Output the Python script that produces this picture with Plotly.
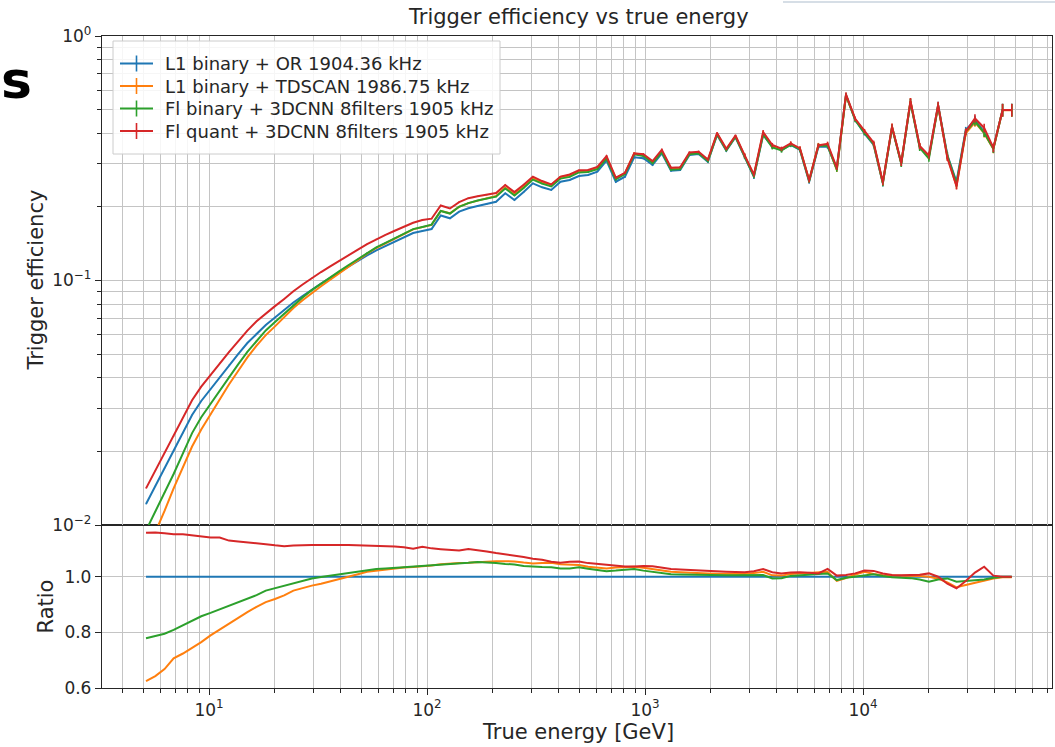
import plotly.graph_objects as go

# ---------------- data ----------------
energy_gev = [5.14, 5.67, 6.25, 6.88, 7.59, 8.36, 9.21, 10.16, 11.19, 12.34,
              13.60, 14.99, 16.52, 18.21, 20.07, 22.12, 24.38, 26.87, 29.62, 32.65,
              35.97, 39.66, 43.71, 48.18, 53.09, 58.52, 64.50, 71.09, 78.34, 86.36,
              95.17, 104.9, 115.6, 127.4, 140.4, 154.8, 170.6, 188.0, 207.3, 228.5,
              251.8, 277.5, 305.9, 337.2, 371.5, 409.6, 451.3, 497.6, 548.3, 604.4,
              666.1, 734.3, 809.1, 891.9, 982.9, 1083, 1194, 1316, 1450, 1599,
              1762, 1942, 2141, 2360, 2600, 2866, 3159, 3482, 3837, 4229,
              4661, 5138, 5662, 6241, 6879, 7582, 8356, 9211, 10150, 11190,
              12330, 13590, 14980, 16510, 18200, 20060, 22110, 24370, 26850, 29600,
              32620, 35960, 39630, 43680, 48140]

# efficiency of the reference trigger (L1 binary + OR)
eff_l1_or = [0.01219, 0.01443, 0.01710, 0.01998, 0.02378, 0.02818, 0.03215, 0.03599, 0.04030, 0.04512,
             0.05004, 0.05551, 0.06069, 0.06577, 0.07058, 0.07573, 0.08128, 0.08642, 0.09188, 0.09721,
             0.1026, 0.1083, 0.1141, 0.1202, 0.1266, 0.1329, 0.1384, 0.1440, 0.1499, 0.1564,
             0.1594, 0.1624, 0.1844, 0.1796, 0.1912, 0.1974, 0.2017, 0.2055, 0.2100, 0.2273,
             0.2134, 0.2301, 0.2497, 0.2405, 0.2345, 0.2535, 0.2576, 0.2675, 0.2700, 0.2786,
             0.3090, 0.2535, 0.2657, 0.3191, 0.3161, 0.2968, 0.3313, 0.2812, 0.2831, 0.3261,
             0.3292, 0.3061, 0.3937, 0.3396, 0.3853, 0.3200, 0.2657, 0.3937, 0.3526, 0.3418,
             0.3583, 0.3418, 0.2535, 0.3526, 0.3526, 0.2877, 0.5738, 0.4533, 0.3999, 0.3583,
             0.2497, 0.4232, 0.3015, 0.5387, 0.3526, 0.3209, 0.5222, 0.3261, 0.2535, 0.4125,
             0.4533, 0.4061, 0.3473, 0.4982, 0.4982]

# ratios to the reference trigger (lower panel)
ratio_l1_tdscan = [0.625, 0.643, 0.668, 0.707, 0.724, 0.743, 0.765, 0.789, 0.810, 0.832,
                   0.852, 0.873, 0.892, 0.909, 0.920, 0.933, 0.950, 0.960, 0.968, 0.975,
                   0.983, 0.992, 1.000, 1.009, 1.018, 1.022, 1.026, 1.030, 1.033, 1.035,
                   1.037, 1.040, 1.045, 1.048, 1.049, 1.050, 1.052, 1.055, 1.056, 1.056,
                   1.055, 1.051, 1.048, 1.049, 1.050, 1.045, 1.043, 1.042, 1.036, 1.032,
                   1.030, 1.033, 1.035, 1.036, 1.032, 1.027, 1.022, 1.018, 1.016, 1.014,
                   1.012, 1.012, 1.011, 1.010, 1.009, 1.010, 1.013, 1.018, 1.005, 1.004,
                   1.010, 1.012, 1.014, 1.016, 1.018, 0.985, 0.995, 1.008, 1.018, 1.010,
                   1.005, 1.004, 1.004, 1.004, 1.003, 1.000, 0.993, 0.980, 0.962, 0.970,
                   0.978, 0.986, 0.994, 0.998, 0.998]

ratio_fi_binary = [0.779, 0.786, 0.795, 0.809, 0.826, 0.843, 0.858, 0.870, 0.883, 0.895,
                   0.907, 0.920, 0.934, 0.950, 0.959, 0.968, 0.976, 0.987, 0.994, 0.999,
                   1.004, 1.009, 1.014, 1.020, 1.025, 1.028, 1.030, 1.032, 1.035, 1.037,
                   1.039, 1.042, 1.044, 1.046, 1.047, 1.050, 1.053, 1.052, 1.049, 1.046,
                   1.044, 1.039, 1.036, 1.035, 1.034, 1.030, 1.030, 1.034, 1.029, 1.024,
                   1.020, 1.022, 1.026, 1.028, 1.022, 1.017, 1.012, 1.009, 1.008, 1.007,
                   1.006, 1.006, 1.006, 1.005, 1.005, 1.005, 1.005, 1.006, 0.994, 0.995,
                   1.003, 1.006, 1.008, 1.010, 1.012, 0.988, 0.996, 1.000, 1.005, 1.009,
                   1.003, 0.998, 0.996, 0.995, 0.990, 0.982, 0.990, 0.994, 0.982, 0.985,
                   0.987, 0.990, 0.996, 1.000, 1.000]

ratio_fi_quant = [1.158, 1.159, 1.156, 1.153, 1.153, 1.149, 1.144, 1.141, 1.141, 1.130,
                  1.127, 1.124, 1.122, 1.117, 1.113, 1.110, 1.112, 1.114, 1.114, 1.114,
                  1.113, 1.114, 1.114, 1.113, 1.113, 1.112, 1.111, 1.109, 1.106, 1.101,
                  1.108, 1.102, 1.099, 1.097, 1.094, 1.100, 1.096, 1.091, 1.085, 1.081,
                  1.077, 1.071, 1.065, 1.061, 1.054, 1.050, 1.054, 1.055, 1.049, 1.046,
                  1.043, 1.040, 1.037, 1.037, 1.039, 1.038, 1.033, 1.028, 1.026, 1.024,
                  1.022, 1.020, 1.019, 1.018, 1.017, 1.016, 1.020, 1.028, 1.016, 1.012,
                  1.015, 1.016, 1.014, 1.012, 1.028, 1.004, 1.006, 1.012, 1.022, 1.021,
                  1.012, 1.006, 1.005, 1.005, 1.007, 1.012, 1.000, 0.975, 0.958, 0.985,
                  1.015, 1.036, 1.004, 1.000, 1.000]

# relative statistical uncertainty of the efficiencies (error bars)
rel_err = [0.002, 0.002, 0.002, 0.002, 0.002, 0.002, 0.002, 0.002, 0.002, 0.002,
           0.002, 0.002, 0.002, 0.002, 0.002, 0.002, 0.002, 0.002, 0.002, 0.002,
           0.002, 0.002, 0.002, 0.002, 0.002, 0.002, 0.002, 0.002, 0.002, 0.002,
           0.005, 0.005, 0.005, 0.005, 0.005, 0.005, 0.005, 0.005, 0.005, 0.005,
           0.005, 0.005, 0.005, 0.005, 0.005, 0.005, 0.005, 0.005, 0.005, 0.005,
           0.010, 0.010, 0.010, 0.010, 0.010, 0.010, 0.010, 0.010, 0.010, 0.010,
           0.010, 0.010, 0.010, 0.010, 0.010, 0.020, 0.020, 0.020, 0.020, 0.020,
           0.020, 0.020, 0.020, 0.020, 0.020, 0.020, 0.020, 0.020, 0.020, 0.020,
           0.030, 0.030, 0.030, 0.030, 0.030, 0.030, 0.030, 0.030, 0.030, 0.030,
           0.040, 0.040, 0.040, 0.060, 0.060]

labels = ["L1 binary + OR 1904.36 kHz",
          "L1 binary + TDSCAN 1986.75 kHz",
          "Fl binary + 3DCNN 8filters 1905 kHz",
          "Fl quant + 3DCNN 8filters 1905 kHz"]
colors = ["#1f77b4", "#ff7f0e", "#2ca02c", "#d62728"]

x_major = [10, 100, 1000, 10000]
x_major_text = ["10<sup>1</sup>", "10<sup>2</sup>", "10<sup>3</sup>", "10<sup>4</sup>"]
y_major = [0.01, 0.1, 1]
y_major_text = ["10<sup>\u22122</sup>", "10<sup>\u22121</sup>", "10<sup>0</sup>"]
ratio_ticks = [0.6, 0.8, 1.0]
ratio_ticktext = ["0.6", "0.8", "1.0"]

# ---------------- derived series ----------------
ratio_l1_or = [e / e for e in eff_l1_or]
ratios = [ratio_l1_or, ratio_l1_tdscan, ratio_fi_binary, ratio_fi_quant]
effs = [[b * r for b, r in zip(eff_l1_or, rs)] for rs in ratios]
for arr in [energy_gev, rel_err] + ratios:
    assert len(arr) == len(eff_l1_or)

# ---------------- geometry ----------------
W, H = 1055, 747
L, R, T, B = 102, 1052, 36, 688      # plot-area pixel bounds
SPLIT = 525                          # boundary between panels


def px(x):
    return (x - L) / (R - L)


def py(y):
    return (B - y) / (B - T)


split_frac = py(SPLIT)

minor_x = [k * 10 ** d for d in range(0, 5) for k in range(2, 10)]
minor_y = [k * 10 ** d for d in (-2, -1) for k in range(2, 10)]

TXT = "#262626"
GRID = "#c4c4c4"

fig = go.Figure()

for lab, col, eff, rs in zip(labels, colors, effs, ratios):
    fig.add_trace(go.Scatter(
        x=energy_gev, y=eff, mode="lines", name=lab,
        line=dict(color=col, width=2),
        error_y=dict(type="data", array=[e * r for e, r in zip(eff, rel_err)],
                     visible=True, color=col, thickness=1.6, width=0),
        xaxis="x2", yaxis="y2", showlegend=False))
for lab, col, rs in zip(labels, colors, ratios):
    fig.add_trace(go.Scatter(
        x=energy_gev, y=rs, mode="lines", name=lab,
        line=dict(color=col, width=2),
        xaxis="x", yaxis="y", showlegend=False))

axis_common = dict(showline=True, linecolor=TXT, linewidth=1.3, mirror=True,
                   zeroline=False, tickcolor=TXT, tickwidth=1.2,
                   tickfont=dict(size=17, color=TXT, family="DejaVu Sans"))

fig.update_layout(
    width=W, height=H,
    margin=dict(l=L, r=W - R, t=T, b=H - B, pad=0),
    paper_bgcolor="white", plot_bgcolor="white",
    showlegend=False,
    font=dict(family="DejaVu Sans", size=17, color=TXT),
    xaxis=dict(type="log", range=[0.509, 4.867], domain=[0, 1], anchor="y",
               tickvals=x_major, ticktext=x_major_text, ticks="outside", ticklen=6,
               showgrid=True, gridcolor=GRID, gridwidth=1,
               minor=dict(tickvals=minor_x, ticks="outside", ticklen=3.5,
                          tickcolor=TXT, showgrid=True, gridcolor=GRID, gridwidth=1),
               **axis_common),
    yaxis=dict(domain=[0, split_frac], range=[0.6, 1.186], anchor="x",
               tickvals=ratio_ticks, ticktext=ratio_ticktext, ticks="outside", ticklen=6,
               showgrid=True, gridcolor=GRID, gridwidth=1, **axis_common),
    xaxis2=dict(type="log", range=[0.509, 4.867], domain=[0, 1], anchor="y2",
                matches="x", showticklabels=False, ticks="",
                tickvals=x_major, showgrid=True, gridcolor=GRID, gridwidth=1,
                minor=dict(tickvals=minor_x, showgrid=True, gridcolor=GRID, gridwidth=1),
                **axis_common),
    yaxis2=dict(type="log", range=[-2, 0], domain=[split_frac, 1], anchor="x2",
                tickvals=y_major, ticktext=y_major_text, ticks="outside", ticklen=6,
                showgrid=True, gridcolor=GRID, gridwidth=1,
                minor=dict(tickvals=minor_y, ticks="outside", ticklen=3.5,
                           tickcolor=TXT, showgrid=True, gridcolor=GRID, gridwidth=1),
                **axis_common),
)

# ---------------- text ----------------
ann = []
ann.append(dict(text="Trigger efficiency vs true energy", x=px(578), y=py(17),
                font=dict(size=21, color=TXT)))
ann.append(dict(text="Trigger efficiency", x=px(35), y=py(280.5), textangle=-90,
                font=dict(size=21, color=TXT)))
ann.append(dict(text="Ratio", x=px(45), y=py(606.5), textangle=-90,
                font=dict(size=21, color=TXT)))
ann.append(dict(text="True energy [GeV]", x=px(578), y=py(732),
                font=dict(size=21, color=TXT)))
ann.append(dict(text="<b>s</b>", x=px(16), y=py(80),
                font=dict(size=52, color="#000000", family="DejaVu Sans")))

# ---------------- legend (matplotlib style) ----------------
shapes = []
shapes.append(dict(type="rect", xref="paper", yref="paper",
                   x0=px(113), x1=px(500), y0=py(154), y1=py(41),
                   fillcolor="rgba(255,255,255,0.85)", line=dict(color="#cccccc", width=1)))
row_y = [63.5, 86, 108.5, 131]
for lab, col, yy in zip(labels, colors, row_y):
    shapes.append(dict(type="line", xref="paper", yref="paper",
                       x0=px(120), x1=px(153), y0=py(yy), y1=py(yy),
                       line=dict(color=col, width=2)))
    shapes.append(dict(type="line", xref="paper", yref="paper",
                       x0=px(136.5), x1=px(136.5), y0=py(yy - 8), y1=py(yy + 8),
                       line=dict(color=col, width=1.6)))
    ann.append(dict(text=lab, x=px(163), y=py(yy), xanchor="left",
                    font=dict(size=18, color=TXT)))

# faint slide artefact at the top right
shapes.append(dict(type="line", xref="paper", yref="paper",
                   x0=px(783), x1=px(1055), y0=py(2), y1=py(2),
                   line=dict(color="#d6dee6", width=2)))

for a in ann:
    a.setdefault("xanchor", "center")
    a.setdefault("yanchor", "middle")
    a.update(xref="paper", yref="paper", showarrow=False)

fig.update_layout(annotations=ann, shapes=shapes)

fig.write_html("out.html")
